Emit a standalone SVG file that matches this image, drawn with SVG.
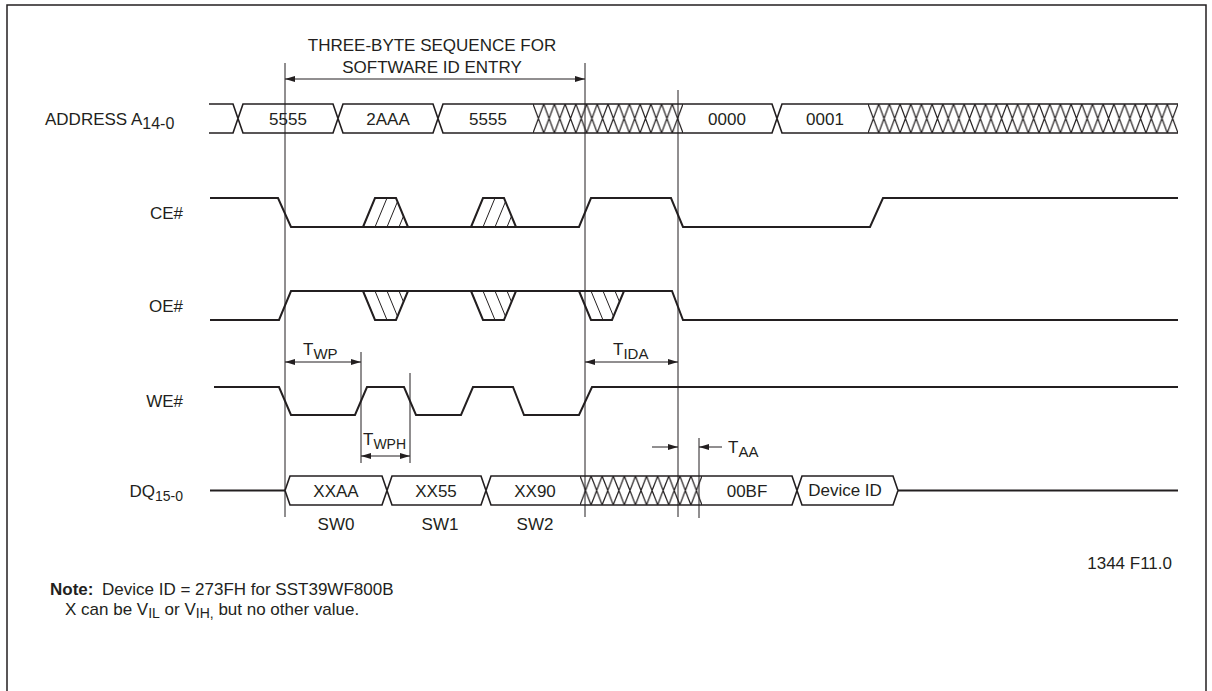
<svg xmlns="http://www.w3.org/2000/svg" width="1212" height="691" viewBox="0 0 1212 691">
<style>
.t{font-family:"Liberation Sans",Arial,Helvetica,sans-serif;font-size:17px;fill:#231f20}
.sig{fill:none;stroke:#231f20;stroke-width:2;stroke-linejoin:miter}
.bus{fill:none;stroke:#231f20;stroke-width:1.6}
.ref{fill:none;stroke:#231f20;stroke-width:1}
.dim{fill:none;stroke:#231f20;stroke-width:1}
.xh{fill:none;stroke:#231f20;stroke-width:1.2}
</style>
<defs>
<marker id="ah" viewBox="0 0 10 6" refX="10" refY="3" markerWidth="10" markerHeight="6" markerUnits="userSpaceOnUse" orient="auto-start-reverse"><path d="M0,0 L10,3 L0,6 z" fill="#231f20"/></marker>
<pattern id="xhA" patternUnits="userSpaceOnUse" x="533" y="104" width="10.714" height="29"><path class="xh" d="M0,0 L10.714,29 M0,29 L10.714,0"/></pattern>
<pattern id="xhB" patternUnits="userSpaceOnUse" x="868" y="104" width="10.690" height="29"><path class="xh" d="M0,0 L10.690,29 M0,29 L10.690,0"/></pattern>
<pattern id="xhD" patternUnits="userSpaceOnUse" x="580" y="476" width="11.091" height="29"><path class="xh" d="M0,0 L11.091,29 M0,29 L11.091,0"/></pattern>
<pattern id="hCE" patternUnits="userSpaceOnUse" x="363" y="198" width="12" height="29"><path d="M0,29 L12,0" stroke="#231f20" stroke-width="1" fill="none"/></pattern>
<pattern id="hOE" patternUnits="userSpaceOnUse" x="363" y="291" width="12" height="29"><path d="M0,0 L12,29" stroke="#231f20" stroke-width="1" fill="none"/></pattern>
</defs>
<rect width="1212" height="691" fill="#fff"/>
<path d="M7,700 V5 H1206 V700" fill="none" stroke="#231f20" stroke-width="1.5"/>

<g id="title">
<text class="t" x="432" y="51" text-anchor="middle">THREE-BYTE SEQUENCE FOR</text>
<text class="t" x="432" y="73" text-anchor="middle">SOFTWARE ID ENTRY</text>
</g>

<g id="address">
<text class="t" x="45" y="125" font-size="18">ADDRESS A<tspan font-size="16" dy="4">14-0</tspan></text>
<path class="bus" d="M209,104 H233 L243,133 H333 L343,104 H433 L443,133 H533 M209,133 H233 L243,104 H333 L343,133 H433 L443,104 H533"/>
<rect x="533" y="104" width="150" height="29" fill="url(#xhA)"/>
<path class="bus" d="M533,104 H683 M533,133 H683"/>
<path class="bus" d="M683,104 H772 L782,133 H868 M683,133 H772 L782,104 H868"/>
<rect x="868" y="104" width="310" height="29" fill="url(#xhB)"/>
<path class="bus" d="M868,104 H1178 M868,133 H1178"/>
<text class="t" x="288" y="125" text-anchor="middle">5555</text>
<text class="t" x="388" y="125" text-anchor="middle">2AAA</text>
<text class="t" x="488" y="125" text-anchor="middle">5555</text>
<text class="t" x="727" y="125" text-anchor="middle">0000</text>
<text class="t" x="825" y="125" text-anchor="middle">0001</text>
</g>

<g id="ce">
<text class="t" x="183" y="219" text-anchor="end">CE#</text>
<path class="sig" d="M210,198 H278 L291,227 H579 L591,198 H671 L683,227 H870 L883,198 H1178"/>
<polygon points="363,227 375,198 396,198 408,227" fill="url(#hCE)"/>
<polygon points="471,227 483,198 504,198 516,227" fill="url(#hCE)"/>
<path class="sig" d="M363,227 L375,198 H396 L408,227 M471,227 L483,198 H504 L516,227"/>
</g>

<g id="oe">
<text class="t" x="183" y="312" text-anchor="end">OE#</text>
<path class="sig" d="M210,320 H279 L291,291 H672 L683,320 H1178"/>
<polygon points="363,291 375,320 396,320 408,291" fill="url(#hOE)"/>
<polygon points="471,291 483,320 504,320 516,291" fill="url(#hOE)"/>
<polygon points="579,291 591,320 612,320 624,291" fill="url(#hOE)"/>
<path class="sig" d="M363,291 L375,320 H396 L408,291 M471,291 L483,320 H504 L516,291 M579,291 L591,320 H612 L624,291"/>
</g>

<g id="we">
<text class="t" x="183" y="407" text-anchor="end">WE#</text>
<path class="sig" d="M214,387 H279 L291,415 H355 L367,387 H404 L416,415 H461 L473,387 H513 L524,415 H579 L592,387 H1178"/>
</g>

<g id="dq">
<text class="t" x="183" y="497" text-anchor="end">DQ<tspan font-size="14" dy="4">15-0</tspan></text>
<path class="sig" d="M210,490.5 H285"/>
<path class="bus" d="M285,490.5 L290,476 H382 L392,505 H481 L491,476 H580 M285,490.5 L290,505 H382 L392,476 H481 L491,505 H580"/>
<rect x="580" y="476" width="122" height="29" fill="url(#xhD)"/>
<path class="bus" d="M580,476 H702 M580,505 H702"/>
<path class="bus" d="M702,476 H792 L802,505 H893 L898,490.5 M702,505 H792 L802,476 H893 L898,490.5"/>
<path class="sig" d="M898,490.5 H1178"/>
<text class="t" x="336" y="497" text-anchor="middle">XXAA</text>
<text class="t" x="436" y="497" text-anchor="middle">XX55</text>
<text class="t" x="535" y="497" text-anchor="middle">XX90</text>
<text class="t" x="747" y="497" text-anchor="middle">00BF</text>
<text class="t" x="845" y="496" text-anchor="middle" font-size="15">Device ID</text>
<text class="t" x="336" y="530" text-anchor="middle">SW0</text>
<text class="t" x="440" y="530" text-anchor="middle">SW1</text>
<text class="t" x="535" y="530" text-anchor="middle">SW2</text>
</g>

<g id="connectors">
<path class="ref" d="M285,63 V517 M585,63 V517 M678,90 V517 M361,352 V463 M410,373 V463 M699,438 V518"/>
<path class="dim" d="M285,79 H585" marker-start="url(#ah)" marker-end="url(#ah)"/>
<path class="dim" d="M285,362 H361" marker-start="url(#ah)" marker-end="url(#ah)"/>
<path class="dim" d="M585,362 H678" marker-start="url(#ah)" marker-end="url(#ah)"/>
<path class="dim" d="M361,456 H410" marker-start="url(#ah)" marker-end="url(#ah)"/>
<path class="dim" d="M652,447 H678" marker-end="url(#ah)"/>
<path class="dim" d="M722,447 H699" marker-end="url(#ah)"/>
</g>

<g id="timing-labels">
<text class="t" x="303" y="355">T<tspan font-size="15" dy="4">WP</tspan></text>
<text class="t" x="613" y="355">T<tspan font-size="15" dy="4">IDA</tspan></text>
<text class="t" x="363" y="445">T<tspan font-size="14" dy="4">WPH</tspan></text>
<text class="t" x="728" y="453">T<tspan font-size="15" dy="4">AA</tspan></text>
</g>

<g id="notes">
<text class="t" x="1172" y="569" text-anchor="end" font-size="13.5">1344 F11.0</text>
<text class="t" x="50" y="595" font-size="16" font-weight="bold">Note:</text>
<text class="t" x="102" y="595" font-size="16">Device ID = 273FH for SST39WF800B</text>
<text class="t" x="65" y="615" font-size="16">X can be V<tspan font-size="14" dy="3">IL</tspan><tspan dy="-3"> or V</tspan><tspan font-size="14" dy="3">IH,</tspan><tspan dy="-3"> but no other value.</tspan></text>
</g>
</svg>
